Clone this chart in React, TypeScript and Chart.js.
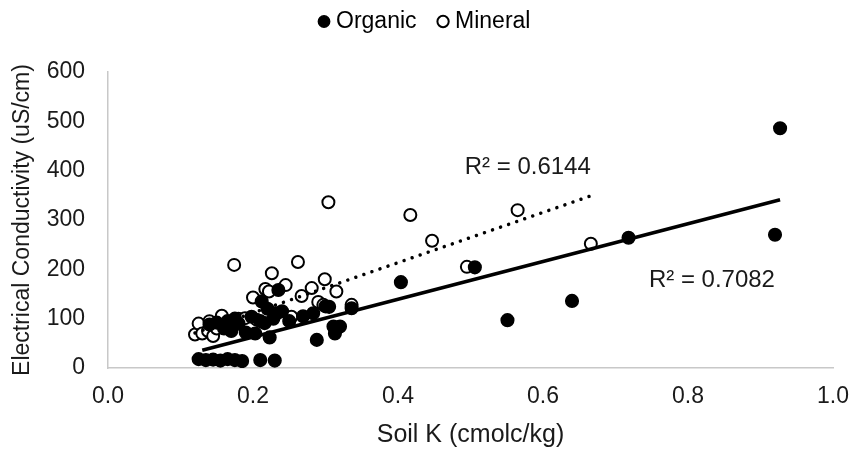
import React, { useEffect, useRef } from 'react';
import { Chart, registerables } from 'chart.js';

Chart.register(...registerables);

const FONT = 'Liberation Sans, Arial, sans-serif';

// Organic soils (filled markers)
const organicK = [
  0.125, 0.135, 0.145, 0.155, 0.165, 0.175, 0.185, 0.21, 0.23,
  0.14, 0.15, 0.16, 0.165, 0.17, 0.175, 0.18, 0.19, 0.198, 0.203, 0.21, 0.212, 0.216, 0.22,
  0.223, 0.228, 0.233, 0.235, 0.24, 0.25, 0.269, 0.283, 0.288, 0.3, 0.305, 0.311, 0.313,
  0.32, 0.336, 0.404, 0.506, 0.551, 0.64, 0.718, 0.92, 0.927,
];
const organicEC = [
  18, 16, 17, 15, 18, 16, 14, 16, 15,
  88, 92, 80, 95, 75, 100, 90, 72, 104, 70, 95, 135, 91, 120,
  62, 100, 111, 158, 115, 95, 105, 111, 57, 125, 124, 84, 70,
  84, 121, 174, 204, 97, 136, 264, 270, 486,
];

// Mineral soils (open markers)
const mineralK = [
  0.12, 0.125, 0.13, 0.138, 0.14, 0.145, 0.15, 0.157, 0.165, 0.174, 0.18, 0.189, 0.2,
  0.205, 0.217, 0.222, 0.226, 0.245, 0.253, 0.262, 0.267, 0.281, 0.29, 0.297, 0.299,
  0.304, 0.315, 0.336, 0.417, 0.447, 0.495, 0.565, 0.666,
];
const mineralEC = [
  68, 90, 70, 75, 95, 65, 80, 106, 85, 209, 100, 101, 143,
  98, 160, 155, 192, 168, 104, 215, 146, 162, 134, 128, 180,
  336, 155, 128, 310, 258, 205, 320, 252,
];

// Linear trendlines (end points)
const organicTrendK = [0.13, 0.927];
const organicTrendEC = [36, 341];
const mineralTrendK = [0.12, 0.668];
const mineralTrendEC = [71, 350];

// R² labels: text and anchor (data units)
const r2Texts = ['R² = 0.6144', 'R² = 0.7082'];
const r2K = [0.579, 0.833];
const r2EC = [406, 177];

const xTickValues = [0, 0.2, 0.4, 0.6, 0.8, 1.0];
const yTickValues = [0, 100, 200, 300, 400, 500, 600];

const toPoints = (xs: number[], ys: number[]) => xs.map((x, i) => ({ x, y: ys[i] }));

const r2Plugin = {
  id: 'r2Labels',
  afterDatasetsDraw(chart: any) {
    const { ctx, scales } = chart;
    ctx.save();
    ctx.font = `24px ${FONT}`;
    ctx.fillStyle = '#1a1a1a';
    ctx.textAlign = 'center';
    ctx.textBaseline = 'middle';
    r2Texts.forEach((t, i) => {
      ctx.fillText(t, scales.x.getPixelForValue(r2K[i]), scales.y.getPixelForValue(r2EC[i]));
    });
    ctx.restore();
  },
};

export default function App() {
  const ref = useRef<HTMLCanvasElement | null>(null);

  useEffect(() => {
    if (!ref.current) return;
    const chart = new Chart(ref.current, {
      type: 'scatter',
      data: {
        datasets: [
          {
            label: 'Organic',
            data: toPoints(organicK, organicEC),
            backgroundColor: '#000',
            borderColor: '#000',
            borderWidth: 1.5,
            pointRadius: 6.3,
            pointStyle: 'circle',
            order: 2,
          },
          {
            label: 'Mineral',
            data: toPoints(mineralK, mineralEC),
            backgroundColor: '#fff',
            borderColor: '#000',
            borderWidth: 2,
            pointRadius: 6,
            pointStyle: 'circle',
            order: 3,
          },
          {
            label: 'Organic trend',
            data: toPoints(organicTrendK, organicTrendEC),
            showLine: true,
            borderColor: '#000',
            borderWidth: 3.5,
            pointRadius: 0,
            order: 1,
          },
          {
            label: 'Mineral trend',
            data: toPoints(mineralTrendK, mineralTrendEC),
            showLine: true,
            borderColor: '#000',
            borderWidth: 3.5,
            borderDash: [0.01, 8.5],
            borderCapStyle: 'round',
            pointRadius: 0,
            order: 1,
          },
        ],
      },
      options: {
        responsive: false,
        animation: false,
        layout: { padding: { left: 0, right: 0, top: -16, bottom: 0 } },
        plugins: {
          legend: {
            position: 'top',
            labels: {
              usePointStyle: true,
              boxWidth: 1,
              boxHeight: 8,
              padding: 26,
              color: '#000',
              font: { size: 23, family: FONT },
              filter: (item: any) => item.datasetIndex < 2,
            },
          },
          subtitle: {
            display: true,
            text: '',
            position: 'top',
            weight: 500,
            font: { size: 10 },
            padding: { top: 17, bottom: 0 },
          },
          tooltip: { enabled: false },
        },
        scales: {
          x: {
            type: 'linear',
            min: 0,
            max: 1,
            afterBuildTicks: (s: any) => {
              s.ticks = xTickValues.map((v) => ({ value: v }));
            },
            grid: { display: false, drawTicks: false },
            border: { display: true, color: '#c8c8c8', width: 1.5 },
            ticks: {
              padding: 15,
              color: '#1a1a1a',
              font: { size: 23, family: FONT },
              callback: (v: any) => Number(v).toFixed(1),
            },
            title: {
              display: true,
              text: 'Soil K (cmolc/kg)',
              color: '#1a1a1a',
              font: { size: 25, family: FONT },
              padding: { top: 0, bottom: 0 },
            },
            afterFit: (s: any) => {
              s.height = 82;
              s.paddingLeft = 0;
              s.paddingRight = 0;
            },
          },
          y: {
            type: 'linear',
            min: 0,
            max: 600,
            afterBuildTicks: (s: any) => {
              s.ticks = yTickValues.map((v) => ({ value: v }));
            },
            grid: { display: false, drawTicks: false },
            border: { display: true, color: '#c8c8c8', width: 1.5 },
            ticks: {
              padding: 23,
              color: '#1a1a1a',
              font: { size: 23, family: FONT },
            },
            title: {
              display: true,
              text: 'Electrical Conductivity (uS/cm)',
              color: '#1a1a1a',
              font: { size: 23, family: FONT },
              padding: { top: 9, bottom: 0 },
            },
            afterFit: (s: any) => {
              s.width = 108;
            },
          },
          // empty right-hand spacer so the plot ends where the reference's does
          spacer: {
            type: 'linear',
            position: 'right',
            display: true,
            grid: { display: false, drawTicks: false },
            border: { display: false },
            ticks: { display: false },
            afterFit: (s: any) => {
              s.width = 21;
            },
          },
        },
      } as any,
      plugins: [r2Plugin],
    });
    return () => chart.destroy();
  }, []);

  return (
    <div style={{ position: 'absolute', left: 0, top: 0, width: 854, height: 450, background: '#fff' }}>
      <canvas ref={ref} width={854} height={450} style={{ display: 'block' }} />
    </div>
  );
}
